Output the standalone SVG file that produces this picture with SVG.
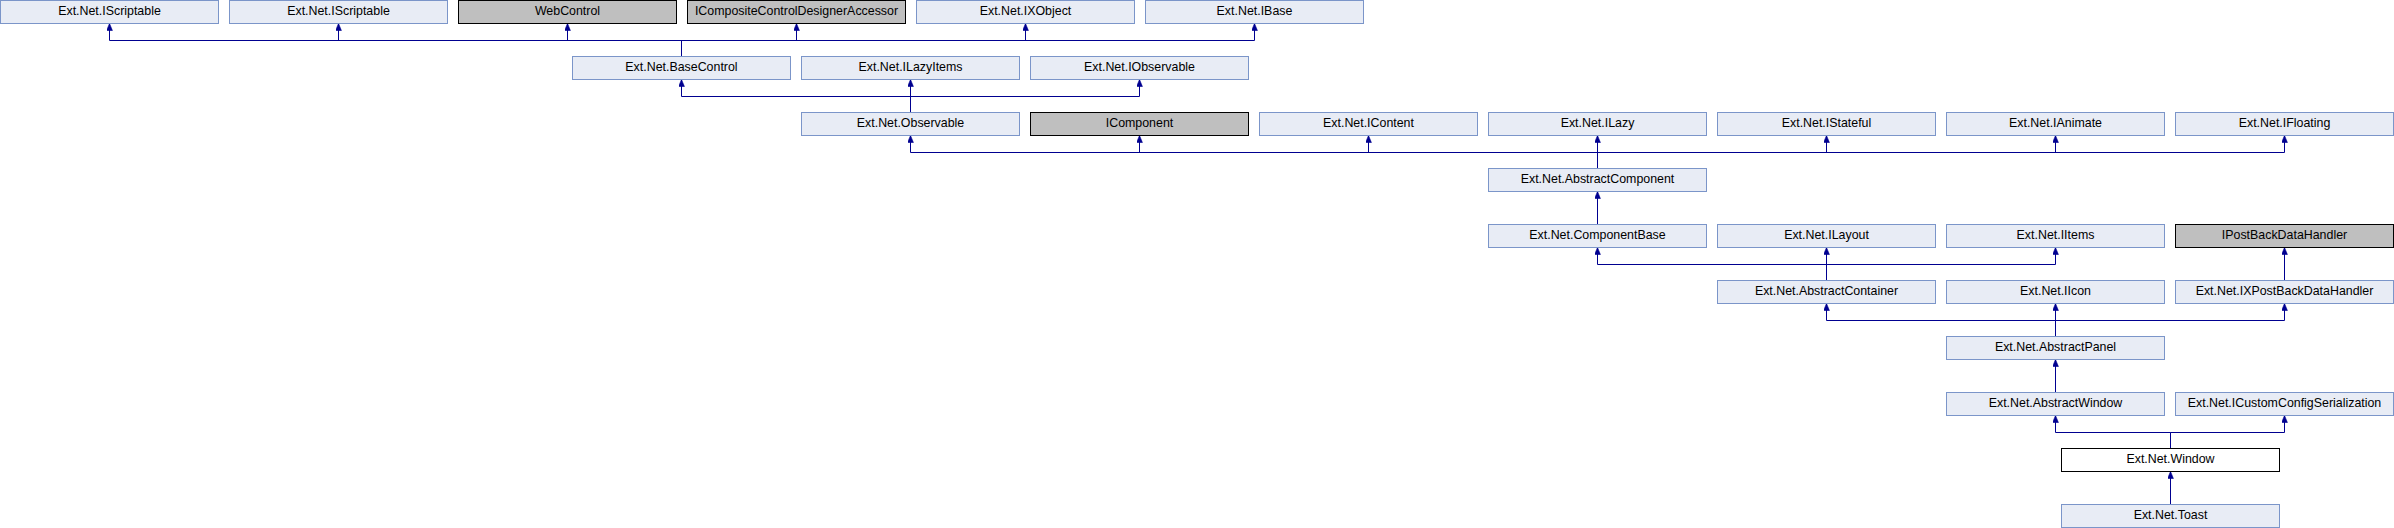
<svg xmlns="http://www.w3.org/2000/svg" width="2394" height="528" viewBox="0 0 2394 528">
<defs>
<style>
.n rect{fill:#E8ECF5;stroke:#7B95C9;stroke-width:1}
.g rect{fill:#BFBFBF;stroke:#000;stroke-width:1}
.w rect{fill:#FFF;stroke:#000;stroke-width:1}
text{font-family:"Liberation Sans",Arial,sans-serif;font-size:12.4px;text-anchor:middle;fill:#000}
#edges path{fill:none;stroke:#000090;stroke-width:1;marker-end:url(#ah)}
</style>
<marker id="ah" markerUnits="userSpaceOnUse" markerWidth="7" markerHeight="6" refX="6" refY="2.5" orient="auto" viewBox="0 0 6 5">
<path d="M0,0 L6,2.5 L0,5 Z" fill="#000090" stroke="#000090" stroke-width="0.5"/>
</marker>
</defs>
<rect width="2394" height="528" fill="#FFF"/>
<g id="edges">
<path d="M681.5,56.5 V40.5 H109.5 V23.5"/>
<path d="M681.5,56.5 V40.5 H338.5 V23.5"/>
<path d="M681.5,56.5 V40.5 H567.5 V23.5"/>
<path d="M681.5,56.5 V40.5 H796.5 V23.5"/>
<path d="M681.5,56.5 V40.5 H1025.5 V23.5"/>
<path d="M681.5,56.5 V40.5 H1254.5 V23.5"/>
<path d="M910.5,112.5 V96.5 H681.5 V79.5"/>
<path d="M910.5,112.5 V79.5"/>
<path d="M910.5,112.5 V96.5 H1139.5 V79.5"/>
<path d="M1597.5,168.5 V152.5 H910.5 V135.5"/>
<path d="M1597.5,168.5 V152.5 H1139.5 V135.5"/>
<path d="M1597.5,168.5 V152.5 H1368.5 V135.5"/>
<path d="M1597.5,168.5 V135.5"/>
<path d="M1597.5,168.5 V152.5 H1826.5 V135.5"/>
<path d="M1597.5,168.5 V152.5 H2055.5 V135.5"/>
<path d="M1597.5,168.5 V152.5 H2284.5 V135.5"/>
<path d="M1597.5,224.5 V191.5"/>
<path d="M1826.5,280.5 V264.5 H1597.5 V247.5"/>
<path d="M1826.5,280.5 V247.5"/>
<path d="M1826.5,280.5 V264.5 H2055.5 V247.5"/>
<path d="M2284.5,280.5 V247.5"/>
<path d="M2055.5,336.5 V320.5 H1826.5 V303.5"/>
<path d="M2055.5,336.5 V303.5"/>
<path d="M2055.5,336.5 V320.5 H2284.5 V303.5"/>
<path d="M2055.5,392.5 V359.5"/>
<path d="M2170.5,448.5 V432.5 H2055.5 V415.5"/>
<path d="M2170.5,448.5 V432.5 H2284.5 V415.5"/>
<path d="M2170.5,504.5 V471.5"/>
</g>
<g id="n_IScriptable1" class="n"><rect x="0.5" y="0.5" width="218" height="23"/><text x="109.5" y="15.3">Ext.Net.IScriptable</text></g>
<g id="n_IScriptable2" class="n"><rect x="229.5" y="0.5" width="218" height="23"/><text x="338.5" y="15.3">Ext.Net.IScriptable</text></g>
<g id="n_WebControl" class="g"><rect x="458.5" y="0.5" width="218" height="23"/><text x="567.5" y="15.3">WebControl</text></g>
<g id="n_ICompositeControlDesignerAccessor" class="g"><rect x="687.5" y="0.5" width="218" height="23"/><text x="796.5" y="15.3">ICompositeControlDesignerAccessor</text></g>
<g id="n_IXObject" class="n"><rect x="916.5" y="0.5" width="218" height="23"/><text x="1025.5" y="15.3">Ext.Net.IXObject</text></g>
<g id="n_IBase" class="n"><rect x="1145.5" y="0.5" width="218" height="23"/><text x="1254.5" y="15.3">Ext.Net.IBase</text></g>
<g id="n_BaseControl" class="n"><rect x="572.5" y="56.5" width="218" height="23"/><text x="681.5" y="71.3">Ext.Net.BaseControl</text></g>
<g id="n_ILazyItems" class="n"><rect x="801.5" y="56.5" width="218" height="23"/><text x="910.5" y="71.3">Ext.Net.ILazyItems</text></g>
<g id="n_IObservable" class="n"><rect x="1030.5" y="56.5" width="218" height="23"/><text x="1139.5" y="71.3">Ext.Net.IObservable</text></g>
<g id="n_Observable" class="n"><rect x="801.5" y="112.5" width="218" height="23"/><text x="910.5" y="127.3">Ext.Net.Observable</text></g>
<g id="n_IComponent" class="g"><rect x="1030.5" y="112.5" width="218" height="23"/><text x="1139.5" y="127.3">IComponent</text></g>
<g id="n_IContent" class="n"><rect x="1259.5" y="112.5" width="218" height="23"/><text x="1368.5" y="127.3">Ext.Net.IContent</text></g>
<g id="n_ILazy" class="n"><rect x="1488.5" y="112.5" width="218" height="23"/><text x="1597.5" y="127.3">Ext.Net.ILazy</text></g>
<g id="n_IStateful" class="n"><rect x="1717.5" y="112.5" width="218" height="23"/><text x="1826.5" y="127.3">Ext.Net.IStateful</text></g>
<g id="n_IAnimate" class="n"><rect x="1946.5" y="112.5" width="218" height="23"/><text x="2055.5" y="127.3">Ext.Net.IAnimate</text></g>
<g id="n_IFloating" class="n"><rect x="2175.5" y="112.5" width="218" height="23"/><text x="2284.5" y="127.3">Ext.Net.IFloating</text></g>
<g id="n_AbstractComponent" class="n"><rect x="1488.5" y="168.5" width="218" height="23"/><text x="1597.5" y="183.3">Ext.Net.AbstractComponent</text></g>
<g id="n_ComponentBase" class="n"><rect x="1488.5" y="224.5" width="218" height="23"/><text x="1597.5" y="239.3">Ext.Net.ComponentBase</text></g>
<g id="n_ILayout" class="n"><rect x="1717.5" y="224.5" width="218" height="23"/><text x="1826.5" y="239.3">Ext.Net.ILayout</text></g>
<g id="n_IItems" class="n"><rect x="1946.5" y="224.5" width="218" height="23"/><text x="2055.5" y="239.3">Ext.Net.IItems</text></g>
<g id="n_IPostBackDataHandler" class="g"><rect x="2175.5" y="224.5" width="218" height="23"/><text x="2284.5" y="239.3">IPostBackDataHandler</text></g>
<g id="n_AbstractContainer" class="n"><rect x="1717.5" y="280.5" width="218" height="23"/><text x="1826.5" y="295.3">Ext.Net.AbstractContainer</text></g>
<g id="n_IIcon" class="n"><rect x="1946.5" y="280.5" width="218" height="23"/><text x="2055.5" y="295.3">Ext.Net.IIcon</text></g>
<g id="n_IXPostBackDataHandler" class="n"><rect x="2175.5" y="280.5" width="218" height="23"/><text x="2284.5" y="295.3">Ext.Net.IXPostBackDataHandler</text></g>
<g id="n_AbstractPanel" class="n"><rect x="1946.5" y="336.5" width="218" height="23"/><text x="2055.5" y="351.3">Ext.Net.AbstractPanel</text></g>
<g id="n_AbstractWindow" class="n"><rect x="1946.5" y="392.5" width="218" height="23"/><text x="2055.5" y="407.3">Ext.Net.AbstractWindow</text></g>
<g id="n_ICustomConfigSerialization" class="n"><rect x="2175.5" y="392.5" width="218" height="23"/><text x="2284.5" y="407.3">Ext.Net.ICustomConfigSerialization</text></g>
<g id="n_Window" class="w"><rect x="2061.5" y="448.5" width="218" height="23"/><text x="2170.5" y="463.3">Ext.Net.Window</text></g>
<g id="n_Toast" class="n"><rect x="2061.5" y="504.5" width="218" height="23"/><text x="2170.5" y="519.3">Ext.Net.Toast</text></g>
</svg>
